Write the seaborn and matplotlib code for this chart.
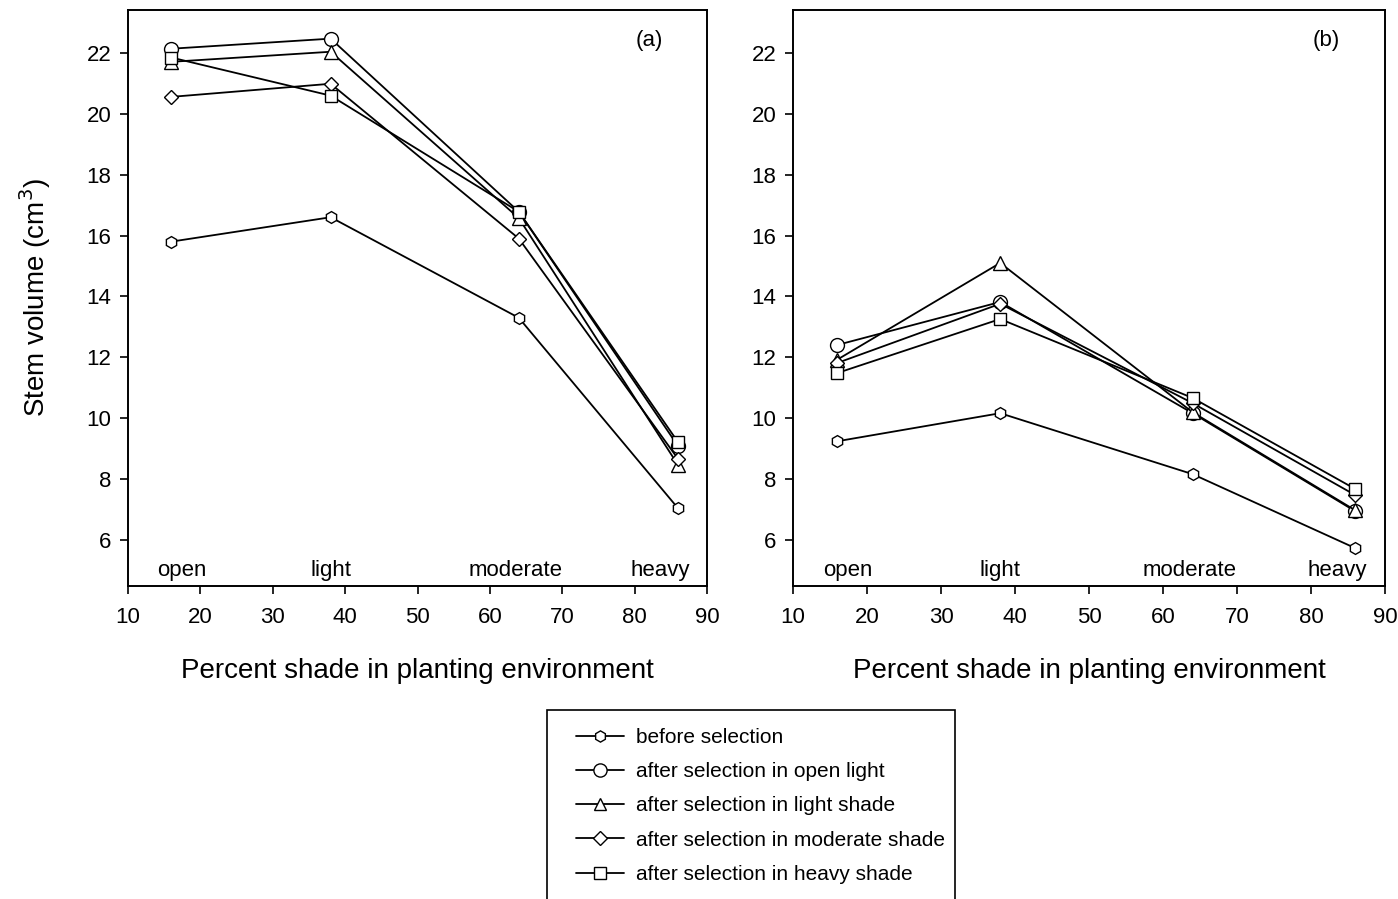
import numpy as np
import pandas as pd
import matplotlib
matplotlib.use("Agg")
import matplotlib.pyplot as plt
from matplotlib.lines import Line2D
from matplotlib.patches import Rectangle
import seaborn as sns

# Percent shade of the four planting environments
shade = [16, 38, 64, 86]
env_labels = ["open", "light", "moderate", "heavy"]

series_names = [
    "before selection",
    "after selection in open light",
    "after selection in light shade",
    "after selection in moderate shade",
    "after selection in heavy shade",
]
series_markers = ["h", "o", "^", "D", "s"]

# Stem volume (cm^3), panel (a)
a_before = [15.8, 16.6, 13.3, 7.05]
a_open = [22.13, 22.46, 16.78, 9.09]
a_light = [21.7, 22.03, 16.57, 8.47]
a_moderate = [20.55, 20.98, 15.9, 8.67]
a_heavy = [21.84, 20.59, 16.78, 9.22]

# Stem volume (cm^3), panel (b)
b_before = [9.25, 10.17, 8.17, 5.74]
b_open = [12.41, 13.82, 10.17, 6.95]
b_light = [11.93, 15.1, 10.2, 6.98]
b_moderate = [11.82, 13.76, 10.5, 7.48]
b_heavy = [11.49, 13.26, 10.67, 7.68]

panel_a = [a_before, a_open, a_light, a_moderate, a_heavy]
panel_b = [b_before, b_open, b_light, b_moderate, b_heavy]

sns.set_theme(style="ticks")
plt.rcParams["font.family"] = ["Liberation Sans", "DejaVu Sans"]
plt.rcParams["axes.linewidth"] = 1.4
plt.rcParams["text.color"] = "black"
plt.rcParams["axes.labelcolor"] = "black"

fig = plt.figure(figsize=(13.98, 8.99), dpi=100)
W, H = 1398, 899


def add_axes(left, right, top, bottom):
    return fig.add_axes([left / W, 1 - bottom / H, (right - left) / W, (bottom - top) / H])


ax_a = add_axes(128, 707, 10, 586)
ax_b = add_axes(793, 1385, 10, 586)

marker_sizes = {"h": 8.5, "o": 10, "^": 9.5, "D": 7.5, "s": 8.5}
# environment names sit along the bottom, slightly inset at the right edge
env_label_x = [17.4, 38.0, 63.6, 83.5]


def draw_panel(ax, values, tag):
    rows = []
    for name, vals in zip(series_names, values):
        for x, v in zip(shade, vals):
            rows.append({"shade": x, "volume": v, "series": name})
    df = pd.DataFrame(rows)
    for name, mk in zip(series_names, series_markers):
        sub = df[df["series"] == name]
        sns.lineplot(data=sub, x="shade", y="volume", ax=ax, color="black",
                     linewidth=1.3, marker=mk, markersize=marker_sizes[mk],
                     markerfacecolor="white", markeredgecolor="black",
                     markeredgewidth=1.0, legend=False)
    ax.set_xlim(10, 90)
    ax.set_ylim(4.5, 23.4)
    ax.set_xticks(range(10, 91, 10))
    ax.set_yticks(range(6, 23, 2))
    ax.tick_params(axis="both", direction="out", length=6, width=1.2,
                   labelsize=16, colors="black")
    ax.tick_params(axis="x", pad=9)
    ax.tick_params(axis="y", pad=6)
    for sp in ax.spines.values():
        sp.set_visible(True)
        sp.set_color("black")
        sp.set_linewidth(1.4)
    ax.set_xlabel("Percent shade in planting environment", fontsize=20,
                  labelpad=22, color="black")
    ax.set_ylabel("")
    for x, lab in zip(env_label_x, env_labels):
        ax.text(x, 5.0, lab, ha="center", va="center", fontsize=16)
    ax.text(82, 22.4, tag, ha="center", va="center", fontsize=16)


draw_panel(ax_a, panel_a, "(a)")
draw_panel(ax_b, panel_b, "(b)")
ax_a.set_ylabel("Stem volume (cm$^3$)", fontsize=20, labelpad=24, color="black")

# Legend box running off the bottom edge
fig.patches.append(Rectangle((547 / W, 1 - 905 / H), (955 - 547) / W, (905 - 710) / H,
                             transform=fig.transFigure, fill=False, edgecolor="black",
                             linewidth=1.2, clip_on=False))
handles = [Line2D([0], [0], color="black", linewidth=1.3, marker=mk,
                  markersize=marker_sizes[mk] * 0.95, markerfacecolor="white",
                  markeredgecolor="black") for mk in series_markers]
leg = fig.legend(handles, series_names, loc="upper left",
                 bbox_to_anchor=(576 / W, 1 - 728 / H), frameon=False, fontsize=15,
                 handlelength=2.3, handletextpad=0.58, labelspacing=0.73,
                 borderaxespad=0, borderpad=0)
for t in leg.get_texts():
    t.set_color("black")

fig.savefig("out.png", dpi=100, facecolor="white")
